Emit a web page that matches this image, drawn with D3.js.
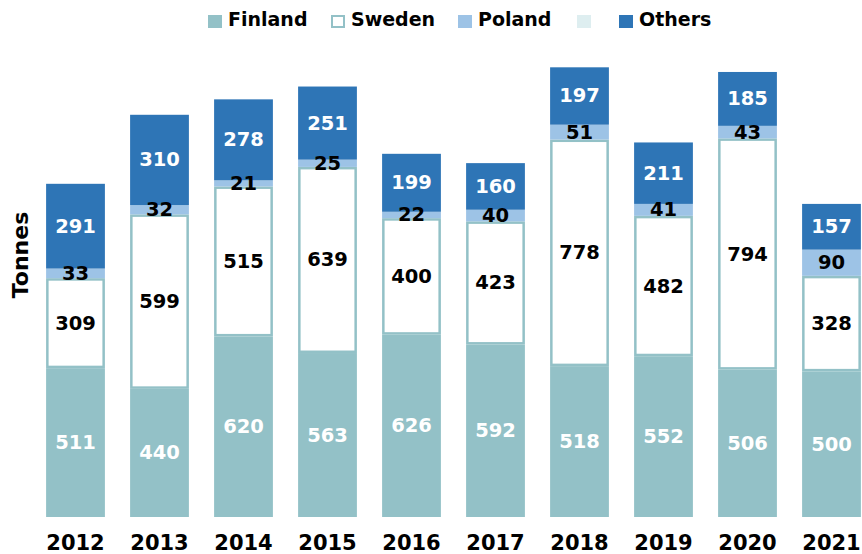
<!DOCTYPE html>
<html><head><meta charset="utf-8">
<script src="https://cdn.jsdelivr.net/npm/d3@7"></script>
<style>body{margin:0;background:#fff}svg{display:block}</style>
</head><body>
<script>
const years = ["2012","2013","2014","2015","2016","2017","2018","2019","2020","2021"];
const finland = [511,440,620,563,626,592,518,552,506,500];
const sweden  = [309,599,515,639,400,423,778,482,794,328];
const poland  = [33,32,21,25,22,40,51,41,43,90];
const others  = [291,310,278,251,199,160,197,211,185,157];
const legendNames = ["Finland","Sweden","Poland","","Others"];
const legendColors = ["#93c1c7","#ffffff","#9dc3e6","#deeef0","#2e75b6"];
const yAxisTitle = "Tonnes";

const W=862,H=554;
const font="DejaVu Sans, Verdana, sans-serif";
const svg=d3.select("body").append("svg").attr("width",W).attr("height",H);

const x=d3.scaleBand().domain(years).range([33.5,873.5]).paddingInner(0.3).paddingOuter(0.15);
const y=d3.scaleLinear().domain([0,1600]).range([517,51]);

const series=[
 {name:"Finland",vals:finland,fill:"#93c1c7",stroke:"none",txt:"#fff"},
 {name:"Sweden",vals:sweden,fill:"#ffffff",stroke:"#93c1c7",txt:"#000"},
 {name:"Poland",vals:poland,fill:"#9dc3e6",stroke:"none",txt:"#000"},
 {name:"Others",vals:others,fill:"#2e75b6",stroke:"none",txt:"#fff"}
];
const stack=years.map((yr,i)=>{let c=0;return series.map(s=>{const a=c;c+=s.vals[i];return {yr,s,v:s.vals[i],y0:a,y1:c};});});

const g=svg.append("g");
stack.forEach(col=>{
  col.forEach(d=>{
    const sw=d.s.stroke==="none"?0:2.5;
    g.append("rect")
     .attr("x",x(d.yr)+sw/2).attr("width",x.bandwidth()-sw)
     .attr("y",y(d.y1)+sw/2).attr("height",Math.max(0,y(d.y0)-y(d.y1)-sw))
     .attr("fill",d.s.fill).attr("stroke",d.s.stroke).attr("stroke-width",sw);
  });
});
stack.forEach(col=>{
  col.forEach(d=>{
    g.append("text").attr("x",x(d.yr)+x.bandwidth()/2).attr("y",(y(d.y0)+y(d.y1))/2)
     .attr("text-anchor","middle").attr("dominant-baseline","central")
     .attr("font-family",font).attr("font-weight","bold").attr("font-size",19.5)
     .attr("fill",d.s.txt).text(d.v);
  });
});

// x axis labels
const xa=svg.append("g").attr("transform","translate(0,517)")
  .call(d3.axisBottom(x).tickSize(0).tickPadding(18));
xa.select(".domain").remove();
xa.selectAll("text").attr("font-family",font).attr("font-weight","bold").attr("font-size",21).attr("fill","#000");

svg.append("text").attr("transform","translate(20,255) rotate(-90)")
 .attr("text-anchor","middle").attr("dominant-baseline","central")
 .attr("font-family",font).attr("font-weight","bold").attr("font-size",22).text(yAxisTitle);

// legend
const lx=[208,331,458,577,619];
legendNames.forEach((n,i)=>{
  const sw=i===1?2:0;
  svg.append("rect").attr("x",lx[i]+sw/2).attr("y",15+sw/2).attr("width",14-sw).attr("height",13-sw)
    .attr("fill",legendColors[i]).attr("stroke",i===1?"#93c1c7":"none").attr("stroke-width",sw);
  svg.append("text").attr("x",lx[i]+20).attr("y",19).attr("dominant-baseline","central")
    .attr("font-family",font).attr("font-weight","bold").attr("font-size",19).text(n);
});
</script>
</body></html>
